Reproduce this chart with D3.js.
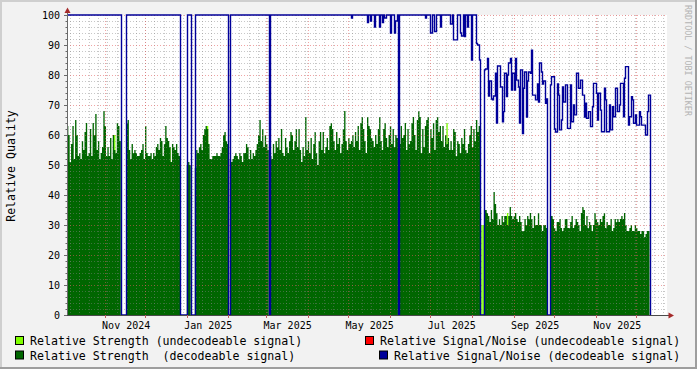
<!DOCTYPE html>
<html>
<head>
<meta charset="utf-8">
<script src="https://cdn.jsdelivr.net/npm/d3@7"></script>
<style>
  html, body { margin: 0; padding: 0; background: #f2f2f2; }
  svg { display: block; font-family: "DejaVu Sans Mono", monospace; }
</style>
</head>
<body>
<svg id="chart" width="697" height="369"></svg>
<script>
// one sample per day, day 0 = 2024-10-04
const firstDay = Date.UTC(2024, 9, 4);
const axisEnd = Date.UTC(2025, 11, 24);

// relative strength, decodeable signal (0 = no reception)
const strength = [
    // Oct 2024
    63, 60, 51, 57, 63, 52, 65, 60, 53, 54, 52, 58, 55, 61, 64, 53, 54, 62, 53, 64,
    60, 67, 55, 58, 52, 54, 56, 68, 63, 53, 56, 53, 59, 52, 60, 55, 54, 64, 63, 58,
    0, 0, 0, 0,
    // Nov - Dec 2024
    64, 65, 55, 52, 57, 54, 55, 54, 53, 53, 54, 55, 57, 52, 63, 54, 53, 53, 54, 52,
    54, 53, 56, 57, 55, 59, 58, 53, 57, 63, 59, 58, 56, 51, 57, 56, 55, 57, 54, 53,
    0, 0, 0, 0, 0,
    50, 51, 50,
    0, 0, 0,
    // Jan 2025
    49, 55, 54, 56, 57, 55, 60, 62, 63, 62, 57, 52, 52, 53, 53, 53, 54, 53, 53, 54,
    56, 60, 61, 58, 57,
    0,
    // Feb 2025
    52, 51, 52, 53, 54, 53, 52, 54, 53, 51, 54, 54, 57, 56, 52, 55, 52, 54, 53, 55,
    57, 60, 65, 58, 62, 56, 60, 57, 55,
    0,
    // Mar - Jun 2025
    53, 52, 57, 54, 58, 56, 59, 55, 62, 54, 53, 59, 56, 54, 58, 61, 60, 55, 58, 62,
    56, 62, 55, 51, 56, 53, 66, 55, 58, 54, 59, 52, 57, 61, 54, 50, 58, 61, 55, 61,
    54, 56, 59, 55, 63, 64, 62, 58, 55, 61, 57, 59, 54, 57, 62, 68, 58, 55, 59, 57,
    58, 60, 56, 61, 58, 63, 55, 64, 66, 62, 58, 54, 66, 63, 62, 59, 58, 56, 60, 57,
    62, 66, 58, 55, 62, 64, 59, 56, 60, 63, 57, 62, 56, 60, 59,
    0,
    // Jun - Aug 2025
    57, 63, 59, 60, 64, 55, 62, 57, 58, 64, 66, 60, 55, 65, 68, 66, 54, 62, 56, 63,
    65, 66, 54, 62, 59, 64, 55, 65, 66, 61, 63, 58, 63, 56, 60, 57, 59, 55, 58, 55,
    62, 61, 53, 58, 57, 54, 59, 57, 62, 55, 54, 57, 60, 63, 56, 62, 58, 65, 61, 63,
    0, 0, 0,
    // Aug - Sep 2025
    35, 35, 34, 33, 31, 35, 32, 41, 37, 34, 30, 32, 30, 33, 31, 33, 33, 30, 33, 36,
    33, 32, 33, 34, 32, 31, 33, 31, 28, 28, 32, 30, 33, 32, 34, 32, 29, 33, 30, 30,
    34, 30, 30, 28, 30, 30, 29,
    0, 0,
    // Sep - Dec 2025
    33, 33, 32, 29, 28, 31, 31, 32, 29, 28, 29, 32, 32, 29, 29, 31, 33, 29, 30, 32,
    31, 30, 28, 34, 36, 35, 30, 33, 29, 31, 30, 28, 30, 34, 32, 31, 30, 32, 31, 33,
    34, 29, 31, 30, 30, 32, 28, 29, 32, 31, 32, 31, 32, 33, 32, 34, 30, 28, 28, 29,
    30, 28, 28, 30, 29, 28, 28, 27, 28, 28, 26, 27, 28, 28
];

// relative strength, undecodeable signal: [day, value]
const strengthUndecodeable = [[35, 60], [76, 56], [104, 63], [282, 64], [307, 30], [308, 30], [309, 30], [327, 34]];

// relative signal/noise, decodeable: [day, value] held until the next change
const snChanges = [
    [0, 100], [40, 0], [44, 100], [84, 0], [89, 100], [92, 0], [95, 100],
    [120, 0], [121, 100], [150, 0], [151, 100],
    [211, 99], [212, 100], [223, 97.5], [224, 100], [225, 98], [226, 100],
    [228, 96], [229, 100], [232, 96], [233, 100], [234, 97.5], [235, 100],
    [236, 99], [237, 100], [240, 94], [241, 100], [243, 94], [244, 98], [245, 100],
    [246, 0], [247, 100],
    [266, 99], [267, 100], [270, 94], [271, 100], [273, 94.5], [274, 100],
    [277, 96], [278, 100], [285, 97], [286, 100], [287, 91.7], [290, 100],
    [292, 94], [293, 93], [294, 100], [295, 92.8], [296, 100], [297, 96], [298, 100],
    [300, 85], [301, 100], [304, 90.5], [305, 90], [306, 85], [307, 0]
];
// daily s/n from 2025-08-09 (day 310)
const snAug = [
    81.7, 82, 85.5, 73, 78, 72, 71.7, 73, 80.6, 64, 83, 83, 76, 64.4, 67.8, 80.6, 72.8, 80, 84, 85.5,
    75, 80.6, 75, 85.5, 78.3, 76, 64, 81.7, 60.5, 75.6, 81, 66, 78, 81, 80.6, 88.3, 73.3, 73.3, 71.7, 77,
    71, 84, 81, 77, 78, 70.6, 72
];
// daily s/n from 2025-09-28 (day 359)
const snOct = [
    76.7, 79.4, 79.4, 62, 61, 77, 73.3, 61.7, 65, 76, 71, 76.7, 76.7, 62.2, 62.2, 76.7, 64.4, 70, 66.7, 80.6,
    80.6, 75.6, 78.3, 78.3, 73.3, 66, 70.6, 65.6, 67.8, 67.8, 62.8, 69.4, 77.2, 77.2, 73.9, 65, 73.9, 68.3, 61.1, 61.1,
    75.6, 71.7, 61.1, 61.1, 70, 61.7, 69.4, 66.1, 75.6, 75.6, 67.8, 70, 77.2, 77.2, 66.1, 78.9, 82.8, 82.8, 63.3, 66.1,
    72.8, 71.7, 63.9, 66.7, 63.3, 63.3, 67.8, 66.1, 63.3, 63.3, 63.3, 60, 67.8, 73.3
];
// relative signal/noise, undecodeable: nothing received
const snUndecodeable = [];

const yTickValues = [0, 10, 20, 30, 40, 50, 60, 70, 80, 90, 100];
const xTickLabels = ['Nov 2024', 'Jan 2025', 'Mar 2025', 'May 2025', 'Jul 2025', 'Sep 2025', 'Nov 2025'];

const legend = [
    {label: 'Relative Strength (undecodeable signal)', color: '#80ff00', x: 15, row: 0},
    {label: 'Relative Strength  (decodeable signal)', color: '#006600', x: 15, row: 1},
    {label: 'Relative Signal/Noise (undecodeable signal)', color: '#ff0000', x: 365, row: 0},
    {label: 'Relative Signal/Noise (decodeable signal)', color: '#000099', x: 379, row: 1}
];

var plotL = 67, plotR = 667, plotT = 15, plotB = 315;

var dayDate = function(i) { return new Date(firstDay + i * 86400000); };

var x = d3.scaleUtc()
    .domain([new Date(firstDay), new Date(axisEnd)])
    .range([plotL, plotR]);

var y = d3.scaleLinear()
    .domain([0, 100])
    .range([plotB, plotT]);

var svg = d3.select('#chart');

// background + 3d frame
svg.append('rect').attr('width', 697).attr('height', 369).attr('fill', '#f2f2f2');
svg.append('path').attr('d', 'M1,369 V1 H697').attr('fill', 'none').attr('stroke', '#cfcfcf').attr('stroke-width', 2);
svg.append('path').attr('d', 'M0,368 H696 V0').attr('fill', 'none').attr('stroke', '#9e9e9e').attr('stroke-width', 2);

// canvas
svg.append('rect')
    .attr('x', plotL).attr('y', plotT)
    .attr('width', plotR - plotL).attr('height', plotB - plotT)
    .attr('fill', '#ffffff');

// undecodeable strength
svg.append('g')
    .selectAll('rect')
    .data(strengthUndecodeable)
    .enter()
    .append('rect')
        .attr('x', function(d) { return x(dayDate(d[0])) })
        .attr('width', function(d) { return x(dayDate(d[0] + 1)) - x(dayDate(d[0])) })
        .attr('y', function(d) { return y(d[1]) })
        .attr('height', function(d) { return y(0) - y(d[1]) })
        .attr('fill', '#80ff00');

// decodeable strength
var strengthPts = strength.map(function(v, i) { return [i, v]; });
strengthPts.push([strength.length, strength[strength.length - 1]]);

svg.append('path')
    .datum(strengthPts)
    .attr('fill', '#006600')
    .attr('d', d3.area()
        .curve(d3.curveStepAfter)
        .x(function(d) { return x(dayDate(d[0])) })
        .y0(y(0))
        .y1(function(d) { return y(d[1]) }));

// grid
var gridY = y.ticks(50).filter(function(v) { return v % 10 != 0; });
var weeks = d3.utcSunday.range(new Date(firstDay), new Date(axisEnd));
var months = d3.utcMonth.range(new Date(firstDay), new Date(axisEnd));

var grid = svg.append('g');
grid.selectAll('.minh')
    .data(gridY)
    .enter()
    .append('line')
        .attr('x1', plotL).attr('x2', plotR)
        .attr('y1', function(d) { return y(d) + 0.5 })
        .attr('y2', function(d) { return y(d) + 0.5 })
        .attr('stroke', 'rgba(130,130,130,0.45)')
        .attr('stroke-dasharray', '1,2');
grid.selectAll('.minv')
    .data(weeks)
    .enter()
    .append('line')
        .attr('x1', function(d) { return Math.round(x(d)) + 0.5 })
        .attr('x2', function(d) { return Math.round(x(d)) + 0.5 })
        .attr('y1', plotT).attr('y2', plotB)
        .attr('stroke', 'rgba(130,130,130,0.45)')
        .attr('stroke-dasharray', '1,2');
grid.selectAll('.majh')
    .data(yTickValues.filter(function(v) { return v > 0; }))
    .enter()
    .append('line')
        .attr('x1', plotL).attr('x2', plotR)
        .attr('y1', function(d) { return y(d) + 0.5 })
        .attr('y2', function(d) { return y(d) + 0.5 })
        .attr('stroke', 'rgba(225,90,90,0.55)')
        .attr('stroke-dasharray', '1,2');
grid.selectAll('.majv')
    .data(months)
    .enter()
    .append('line')
        .attr('x1', function(d) { return Math.round(x(d)) + 0.5 })
        .attr('x2', function(d) { return Math.round(x(d)) + 0.5 })
        .attr('y1', plotT).attr('y2', plotB)
        .attr('stroke', 'rgba(225,90,90,0.55)')
        .attr('stroke-dasharray', '1,2');

// signal / noise line
var snPts = snChanges.slice();
snAug.forEach(function(v, i) { snPts.push([310 + i, v]); });
snPts.push([310 + snAug.length, 0]);
snOct.forEach(function(v, i) { snPts.push([359 + i, v]); });
snPts.push([359 + snOct.length, 0]);

svg.append('path')
    .datum(snPts)
    .attr('fill', 'none')
    .attr('stroke', '#000099')
    .attr('stroke-width', 1.4)
    .attr('d', d3.line()
        .curve(d3.curveStepAfter)
        .x(function(d) { return Math.round(x(dayDate(d[0]))) + 0.5 })
        .y(function(d) { return y(d[1]) }));

// axes
svg.append('line')
    .attr('x1', plotL + 0.5).attr('x2', plotL + 0.5)
    .attr('y1', 12).attr('y2', plotB + 0.5)
    .attr('stroke', '#6a6a6a');
svg.append('line')
    .attr('x1', plotL).attr('x2', 669)
    .attr('y1', plotB + 0.5).attr('y2', plotB + 0.5)
    .attr('stroke', '#4a4a4a');
svg.append('path')
    .attr('d', 'M64.5,13 L70.5,13 L67.5,7.5 Z')
    .attr('fill', '#a52a2a');
svg.append('path')
    .attr('d', 'M668.5,312.5 L668.5,318.5 L674,315.5 Z')
    .attr('fill', '#a52a2a');

// y ticks and labels
svg.append('g')
    .selectAll('line')
    .data(y.ticks(50))
    .enter()
    .append('line')
        .attr('x1', function(d) { return d % 10 == 0 ? plotL - 3 : plotL - 1.5 })
        .attr('x2', plotL)
        .attr('y1', function(d) { return y(d) + 0.5 })
        .attr('y2', function(d) { return y(d) + 0.5 })
        .attr('stroke', '#6a6a6a');

svg.append('g')
    .selectAll('text')
    .data(yTickValues)
    .enter()
    .append('text')
        .attr('x', 60)
        .attr('y', function(d) { return y(d) + 3.7 })
        .attr('text-anchor', 'end')
        .attr('font-size', 10)
        .attr('fill', '#000')
        .text(function(d) { return d });

// x ticks and labels
svg.append('g')
    .selectAll('line')
    .data(months)
    .enter()
    .append('line')
        .attr('x1', function(d) { return Math.round(x(d)) + 0.5 })
        .attr('x2', function(d) { return Math.round(x(d)) + 0.5 })
        .attr('y1', plotB).attr('y2', plotB + 3)
        .attr('stroke', '#c06060');

var parseLabel = d3.utcParse('%b %Y');
svg.append('g')
    .selectAll('text')
    .data(xTickLabels)
    .enter()
    .append('text')
        .attr('x', function(d) { return x(d3.utcDay.offset(parseLabel(d), 16)) })
        .attr('y', 328.5)
        .attr('text-anchor', 'middle')
        .attr('font-size', 10)
        .attr('fill', '#000')
        .text(function(d) { return d });

// vertical label
svg.append('text')
    .attr('transform', 'translate(14.5,166) rotate(-90)')
    .attr('text-anchor', 'middle')
    .attr('font-size', 11.6)
    .attr('fill', '#000')
    .text('Relative Quality');

// watermark
svg.append('text')
    .attr('transform', 'translate(684.5,5) rotate(90)')
    .attr('font-size', 8.4)
    .attr('fill', '#b4b4b4')
    .text('RRDTOOL / TOBI OETIKER');

// legend
var leg = svg.append('g')
    .selectAll('g')
    .data(legend)
    .enter()
    .append('g');

leg.append('rect')
    .attr('x', function(d) { return d.x + 0.5 })
    .attr('y', function(d) { return 336.5 + d.row * 14.5 })
    .attr('width', 8).attr('height', 8)
    .attr('fill', function(d) { return d.color })
    .attr('stroke', '#000');

leg.append('text')
    .attr('x', function(d) { return d.x + 15 })
    .attr('y', function(d) { return 345 + d.row * 14.5 })
    .attr('font-size', 11.6)
    .attr('fill', '#000')
    .attr('xml:space', 'preserve')
    .style('white-space', 'pre')
    .text(function(d) { return d.label });
</script>
</body>
</html>
